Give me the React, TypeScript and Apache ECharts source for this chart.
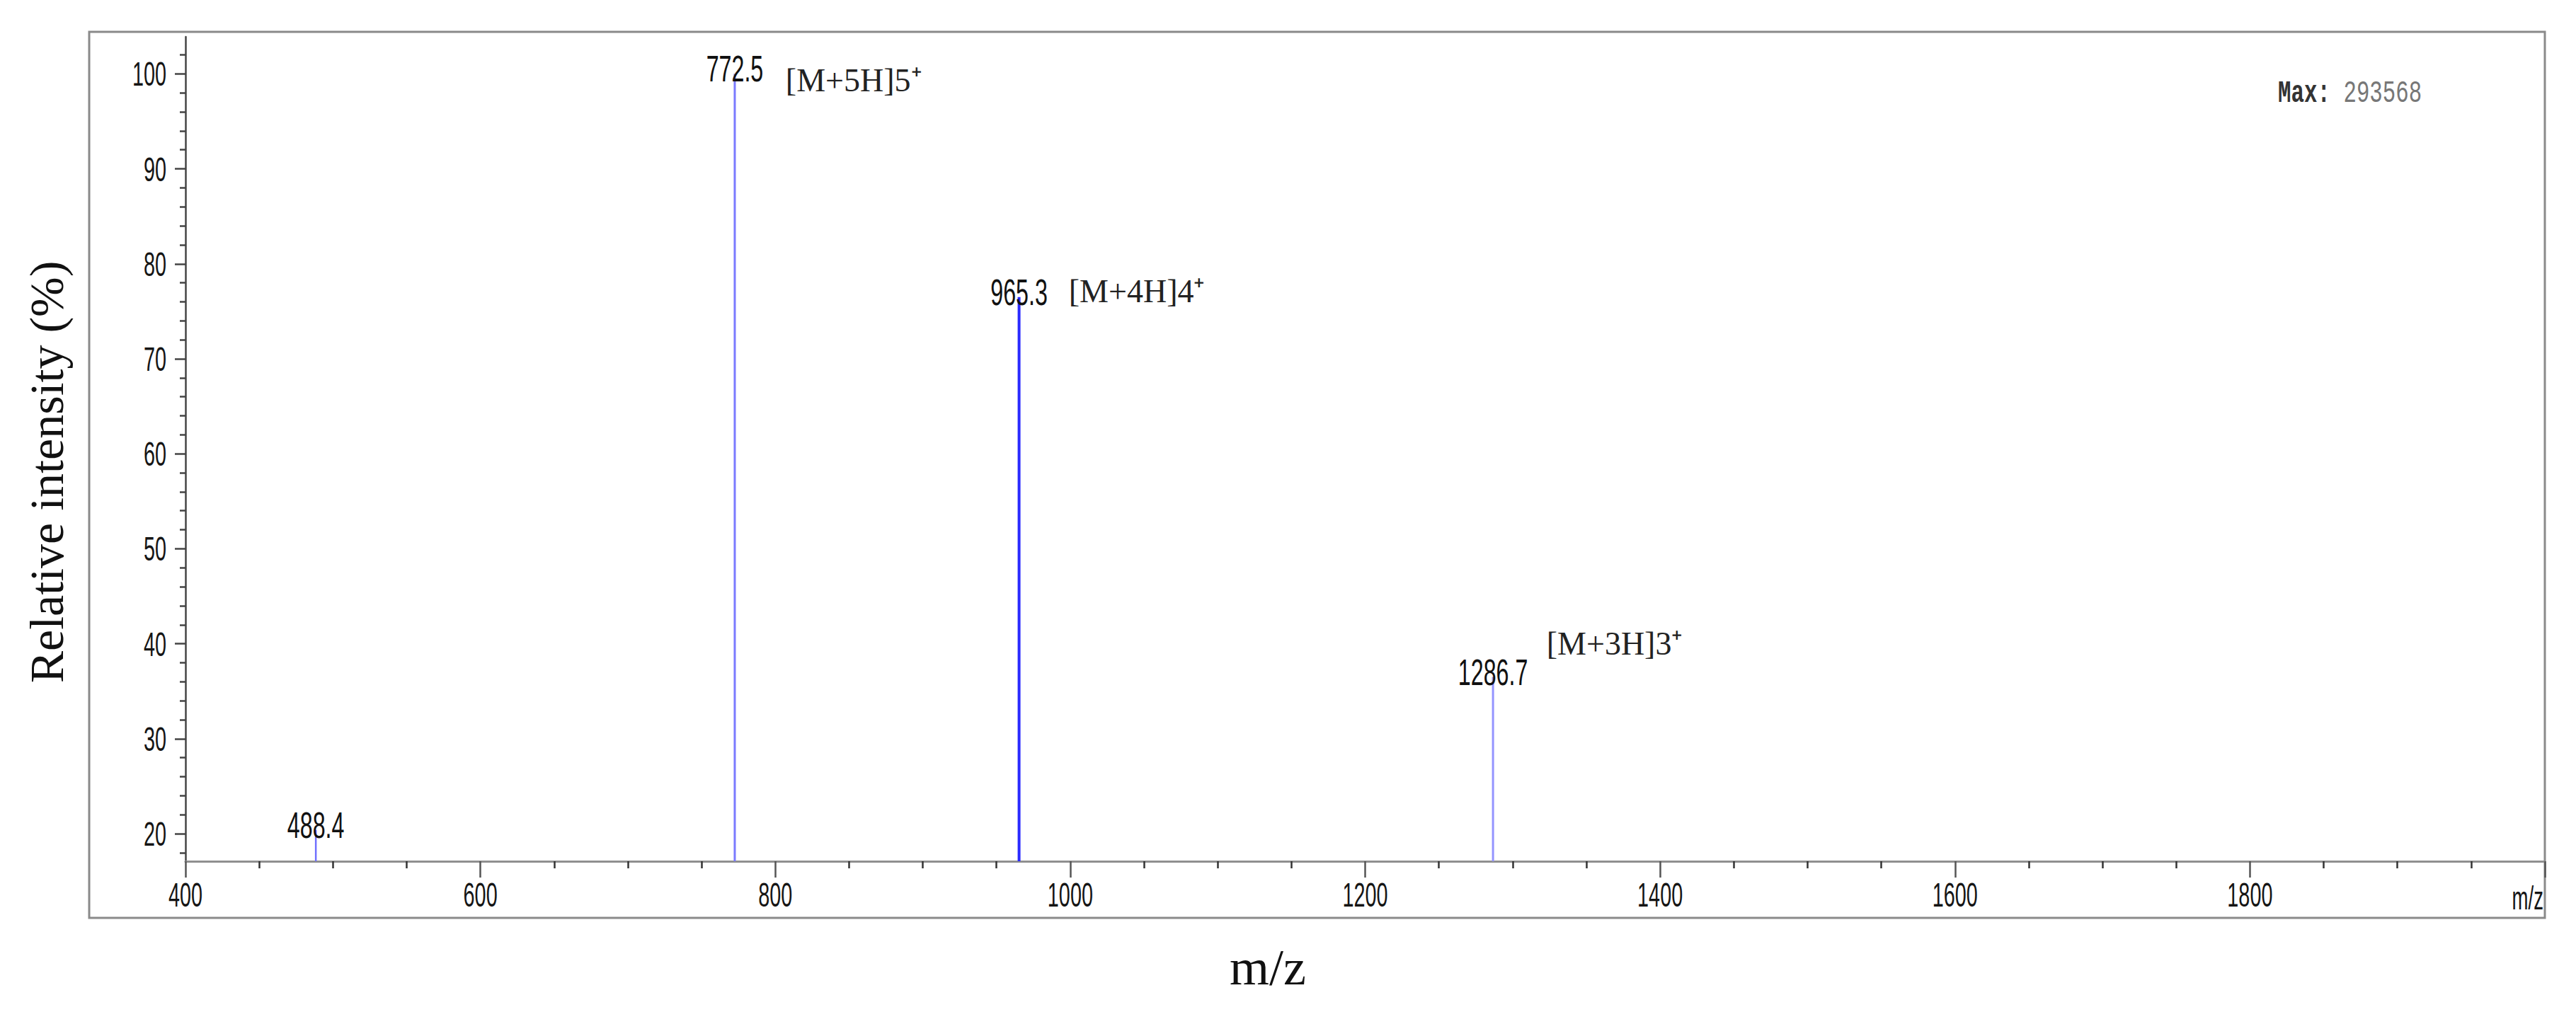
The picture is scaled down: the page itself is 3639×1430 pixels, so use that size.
import React, { useEffect, useRef } from "react";
import * as echarts from "echarts";

// ---- data ----
const peakMz = [488.4, 772.5, 965.3, 1286.7];
const peakIntensity = [20.4, 100, 76.5, 36.5];
const peakLabels = ["488.4", "772.5", "965.3", "1286.7"];

const ionLabels = ["[M+5H]5⁺", "[M+4H]4⁺", "[M+3H]3⁺"];
const ionLabelMz = [807, 999, 1323];
const ionLabelIntensity = [99.35, 77.1, 40.0];

const xTickLabels = [400, 600, 800, 1000, 1200, 1400, 1600, 1800];
const xAxisEndLabel = "m/z";
const yMajorTicks = [20, 30, 40, 50, 60, 70, 80, 90, 100];
const yMinorTicks = [
  18, 22, 24, 26, 28, 32, 34, 36, 38, 42, 44, 46, 48, 52, 54, 56, 58, 62, 64,
  66, 68, 72, 74, 76, 78, 82, 84, 86, 88, 92, 94, 96, 98, 102,
];
const X_MIN = 400;
const X_MAX = 2000;
const X_INTERVAL = 200;
const Y_MIN = 17.1;
const Y_MAX = 103.9;
const MAX_COUNT = "293568";

// ---- styles (kept apart from data) ----
const PEAK_STYLES = [
  { color: "#7070ff", width: 2.5 },
  { color: "#7a7aff", width: 3 },
  { color: "#2a2aff", width: 4 },
  { color: "#9494ff", width: 3 },
];
const SANS = "'Liberation Sans', Arial, sans-serif";
const SERIF = "'Liberation Serif', 'Times New Roman', serif";
const MONO = "'Liberation Mono', 'Courier New', monospace";
const CONDENSE = 0.6;
const TICK_FONT = 48;

export default function App() {
  const ref = useRef<HTMLDivElement>(null);

  useEffect(() => {
    if (!ref.current) return;
    const chart = echarts.init(ref.current, undefined, { renderer: "svg" });

    const condensedText = (x: number, y: number, text: string, align: string, size = TICK_FONT) => ({
      type: "text",
      x,
      y,
      scaleX: CONDENSE,
      style: {
        text,
        fontSize: size,
        fontFamily: SANS,
        fill: "#151515",
        align,
        verticalAlign: "middle",
      },
    });

    const option: any = {
      animation: false,
      backgroundColor: "#ffffff",
      grid: { left: 262, top: 52, right: 44, bottom: 213, containLabel: false },
      xAxis: {
        type: "value",
        min: X_MIN,
        max: X_MAX,
        interval: X_INTERVAL,
        axisLine: { show: true, lineStyle: { color: "#8f8f8f", width: 3 } },
        axisTick: { show: true, length: 23, lineStyle: { color: "#555", width: 2.5 } },
        minorTick: {
          show: true,
          splitNumber: 4,
          length: 10,
          lineStyle: { color: "#333", width: 2.5 },
        },
        splitLine: { show: false },
        axisLabel: { show: false },
      },
      yAxis: [
        {
          type: "value",
          min: Y_MIN,
          max: Y_MAX,
          axisLine: { show: true, lineStyle: { color: "#444", width: 2.5 } },
          axisTick: {
            show: true,
            length: 15,
            customValues: yMajorTicks,
            lineStyle: { color: "#444", width: 2.5 },
          },
          axisLabel: { show: false },
          splitLine: { show: false },
        },
        {
          type: "value",
          min: Y_MIN,
          max: Y_MAX,
          position: "left",
          offset: 0,
          axisLine: { show: false },
          axisTick: {
            show: true,
            length: 8,
            customValues: yMinorTicks,
            lineStyle: { color: "#444", width: 2.5 },
          },
          axisLabel: { show: false },
          splitLine: { show: false },
        },
      ],
      series: [
        {
          type: "custom",
          name: "peaks",
          coordinateSystem: "cartesian2d",
          xAxisIndex: 0,
          yAxisIndex: 0,
          clip: false,
          data: peakMz.map((m, i) => [m, peakIntensity[i], i]),
          encode: { x: 0, y: 1 },
          renderItem: (params: any, api: any) => {
            const m = api.value(0);
            const h = api.value(1);
            const i = api.value(2);
            const top = api.coord([m, h]);
            const base = api.coord([m, Y_MIN]);
            const st = PEAK_STYLES[i];
            return {
              type: "group",
              children: [
                {
                  type: "line",
                  shape: { x1: top[0], y1: base[1], x2: top[0], y2: top[1] },
                  style: { stroke: st.color, lineWidth: st.width },
                },
                {
                  type: "text",
                  x: top[0],
                  y: top[1] - 7,
                  scaleX: 0.62,
                  style: {
                    text: peakLabels[i],
                    fontSize: 52,
                    fontFamily: SANS,
                    fill: "#111",
                    align: "center",
                    verticalAlign: "middle",
                  },
                },
              ],
            };
          },
        },
        {
          type: "custom",
          name: "ions",
          coordinateSystem: "cartesian2d",
          xAxisIndex: 0,
          yAxisIndex: 0,
          clip: false,
          data: ionLabelMz.map((m, i) => [m, ionLabelIntensity[i], i]),
          encode: { x: 0, y: 1 },
          renderItem: (params: any, api: any) => {
            const p = api.coord([api.value(0), api.value(1)]);
            const i = api.value(2);
            return {
              type: "text",
              x: p[0],
              y: p[1],
              style: {
                text: ionLabels[i],
                fontSize: 46,
                fontFamily: SERIF,
                fill: "#222",
                align: "left",
                verticalAlign: "middle",
              },
            };
          },
        },
        {
          // x-axis tick labels (condensed, as in the instrument software)
          type: "custom",
          name: "xTickLabels",
          coordinateSystem: "cartesian2d",
          clip: false,
          silent: true,
          data: xTickLabels.map((v) => [v, Y_MIN]),
          encode: { x: 0, y: 1 },
          renderItem: (params: any, api: any) => {
            const p = api.coord([api.value(0), Y_MIN]);
            return condensedText(p[0], p[1] + 47, String(api.value(0)), "center");
          },
        },
        {
          type: "custom",
          name: "xEndLabel",
          coordinateSystem: "cartesian2d",
          clip: false,
          silent: true,
          data: [[X_MAX, Y_MIN]],
          encode: { x: 0, y: 1 },
          renderItem: (params: any, api: any) => {
            const p = api.coord([X_MAX, Y_MIN]);
            return condensedText(p[0] - 2, p[1] + 52, xAxisEndLabel, "right", 46);
          },
        },
        {
          // y-axis tick labels
          type: "custom",
          name: "yTickLabels",
          coordinateSystem: "cartesian2d",
          clip: false,
          silent: true,
          data: yMajorTicks.map((v) => [X_MIN, v]),
          encode: { x: 0, y: 1 },
          renderItem: (params: any, api: any) => {
            const p = api.coord([X_MIN, api.value(1)]);
            return condensedText(p[0] - 27, p[1], String(api.value(1)), "right");
          },
        },
      ],
      graphic: [
        {
          type: "rect",
          silent: true,
          z: -10,
          shape: { x: 126, y: 45, width: 3469, height: 1252 },
          style: { fill: "none", stroke: "#8a8a8a", lineWidth: 3 },
        },
        {
          type: "text",
          x: 3218,
          y: 132,
          scaleX: 0.7,
          style: {
            text: "{a|Max:} {b|" + MAX_COUNT + "}",
            fontSize: 44,
            fontFamily: MONO,
            align: "left",
            verticalAlign: "middle",
            rich: {
              a: { fontSize: 44, fontFamily: MONO, fill: "#333", fontWeight: "bold" },
              b: { fontSize: 44, fontFamily: MONO, fill: "#777" },
            },
          },
        },
        {
          type: "text",
          x: 1791,
          y: 1367,
          style: {
            text: "m/z",
            fontSize: 72,
            fontFamily: SERIF,
            fill: "#111",
            align: "center",
            verticalAlign: "middle",
          },
        },
        {
          type: "text",
          x: 66,
          y: 667,
          rotation: Math.PI / 2,
          style: {
            text: "Relative intensity (%)",
            fontSize: 68,
            fontFamily: SERIF,
            fill: "#111",
            align: "center",
            verticalAlign: "middle",
          },
        },
      ],
    };

    chart.setOption(option);
    return () => chart.dispose();
  }, []);

  return (
    <div
      ref={ref}
      style={{ position: "absolute", left: 0, top: 0, width: 3639, height: 1430, background: "#fff" }}
    />
  );
}
